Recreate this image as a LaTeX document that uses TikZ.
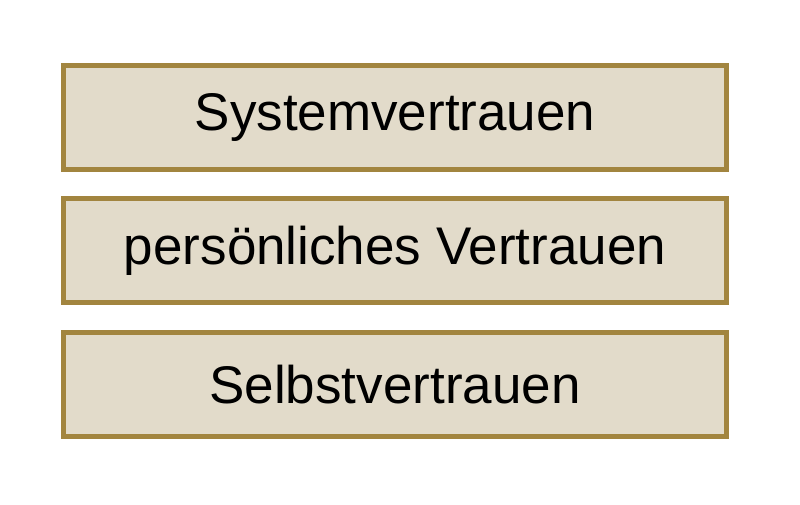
\documentclass[tikz,border=0pt]{standalone}
\usepackage{fontspec}
\setmainfont{Liberation Sans}
\definecolor{boxfill}{HTML}{E2DBCA}
\definecolor{boxline}{HTML}{A2853F}
\begin{document}
\begin{tikzpicture}[x=1pt,y=-1pt,
  layer/.style={draw=boxline,fill=boxfill,line width=5pt,minimum width=663pt,minimum height=104pt,inner sep=0pt,font=\fontsize{53}{60}\selectfont,text=black}]
\useasboundingbox (0,0) rectangle (800,504);
\fill[white] (0,0) rectangle (800,504);
\node[layer] (sys) at (395,117.5) {Systemvertrauen};
\node[layer] (pers) at (395,250.5) {persönliches Vertrauen};
\node[layer] (selbst) at (395,384.5) {Selbstvertrauen};
\end{tikzpicture}
\end{document}
